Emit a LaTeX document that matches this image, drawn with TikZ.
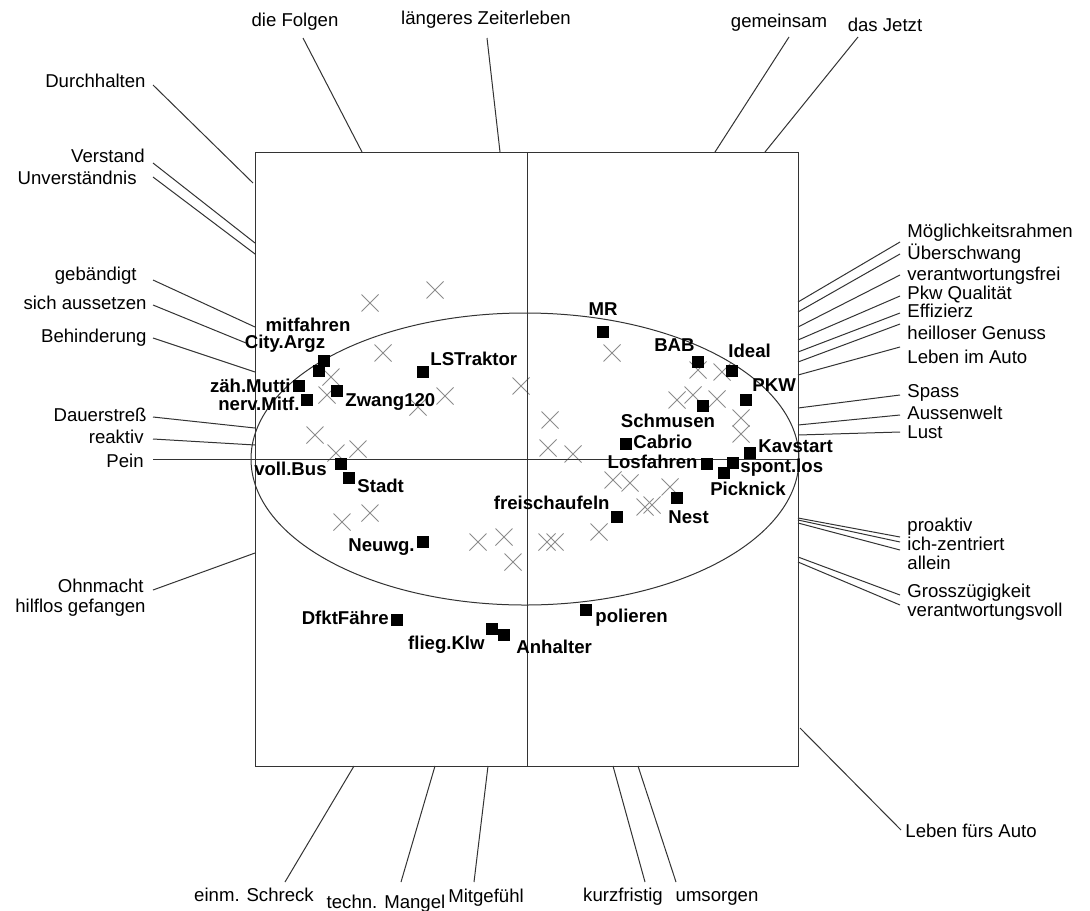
\documentclass[tikz,border=0pt]{standalone}
\usepackage{fontspec}
\setmainfont{Liberation Sans}
\newcommand\lbfont{\fontsize{9.3}{11}\selectfont}
\tikzset{
  lab/.style={font=\lbfont, inner sep=0pt, text height=6.6pt, text depth=1.8pt},
  obj/.style={lab, font=\lbfont\bfseries},
  leader/.style={draw=black!80, line width=0.5pt},
  frame/.style={draw=black!80, line width=0.5pt},
  sq/.style={fill=black, minimum size=6.2pt, inner sep=0pt},
  xmark/.style={draw=black!45, line width=0.5pt},
}
\begin{document}
\begin{tikzpicture}[x=0.5pt, y=-0.5pt]
  \fill[white] (0,0) rectangle (1090,910);
  \useasboundingbox (0,0) rectangle (1090,910);
  % grey crosses
  \foreach \x/\y in {370/303, 435/290, 383/353, 331/377, 327/395, 445/396, 418/407, 521/386,
      315/435, 336/453, 358/449, 342/522, 370/513, 478/542, 504/537, 513/562, 547/542, 555/542,
      599/532, 550/420, 548/448, 573/454, 612/353, 677/400, 693/395, 717/399, 698/370, 722/372,
      741/418, 741/434, 613/480, 630/483, 670/487, 645/507, 652/505}
    \draw[xmark] (\x,\y) +(-8.5,-8.5) -- +(8.5,8.5) +(-8.5,8.5) -- +(8.5,-8.5);
  % frame, axes and ellipse
  \draw[frame] (255,152) rectangle (798,766);
  \draw[frame] (527,152) -- (527,766);
  \draw[frame] (255,459) -- (798,459);
  \draw[frame] (525,459) ellipse [x radius=274, y radius=146];
  % top labels
  \node[lab] (tFolg) at (295,22) {die Folgen};
  \node[lab] (tZeit) at (486,20) {längeres Zeiterleben};
  \node[lab] (tGem) at (779,23) {gemeinsam};
  \node[lab] (tJetzt) at (885,27) {das Jetzt};
  \coordinate (fFolg) at (362,152);
  \coordinate (fZeit) at (500,152);
  \coordinate (fGem) at (715,152);
  \coordinate (fJetzt) at (765,152);
  \draw[leader] ([xshift=4pt,yshift=-8pt]tFolg.center) -- (fFolg);
  \draw[leader] ([xshift=.5pt,yshift=-9pt]tZeit.center) -- (fZeit);
  \draw[leader] ([xshift=5pt,yshift=-7pt]tGem.center) -- (fGem);
  \draw[leader] ([xshift=-13.5pt,yshift=-5pt]tJetzt.center) -- (fJetzt);
  % left labels
  \node[lab, anchor=east] (tDurch) at (146,83) {Durchhalten};
  \node[lab, anchor=east] (tVerst) at (145,158) {Verstand};
  \node[lab, anchor=east] (tUnv) at (137,180) {Unverständnis};
  \node[lab, anchor=east] (tGeb) at (137,276) {gebändigt};
  \node[lab, anchor=east] (tAuss) at (147,305) {sich aussetzen};
  \node[lab, anchor=east] (tBeh) at (147,338) {Behinderung};
  \node[lab, anchor=east] (tDauer) at (147,417) {Dauerstreß};
  \node[lab, anchor=east] (tReak) at (144,439) {reaktiv};
  \node[lab, anchor=east] (tPein) at (144,463) {Pein};
  \node[lab, anchor=east] (tOhn) at (144,588) {Ohnmacht};
  \node[lab, anchor=east] (tHilf) at (146,608) {hilflos gefangen};
  \coordinate (fDurch) at (253,183);
  \coordinate (fVerst) at (255,243);
  \coordinate (fUnv) at (255,254);
  \coordinate (fGeb) at (255,327);
  \coordinate (fAuss) at (246,343);
  \coordinate (fBeh) at (255,372);
  \coordinate (fDauer) at (255,428);
  \coordinate (fReak) at (255,445);
  \coordinate (fPein) at (255,459);
  \coordinate (fOhn) at (255,553);
  \draw[leader] ([xshift=3.5pt,yshift=-1pt]tDurch.east) -- (fDurch);
  \draw[leader] ([xshift=4pt,yshift=-2.5pt]tVerst.east) -- (fVerst);
  \draw[leader] ([xshift=8pt,yshift=1.5pt]tUnv.east) -- (fUnv);
  \draw[leader] ([xshift=8pt,yshift=-2pt]tGeb.east) -- (fGeb);
  \draw[leader] ([xshift=3pt]tAuss.east) -- (fAuss);
  \draw[leader] ([xshift=3pt]tBeh.east) -- (fBeh);
  \draw[leader] ([xshift=3pt]tDauer.east) -- (fDauer);
  \draw[leader] ([xshift=4.5pt]tReak.east) -- (fReak);
  \draw[leader] ([xshift=4.5pt,yshift=2pt]tPein.east) -- (fPein);
  \draw[leader] ([xshift=4.5pt,yshift=-1pt]tOhn.east) -- (fOhn);
  % right labels
  \node[lab, anchor=west] (tMoeg) at (907,233) {Möglichkeitsrahmen};
  \node[lab, anchor=west] (tUeber) at (907,255) {Überschwang};
  \node[lab, anchor=west] (tVfrei) at (907,276) {verantwortungsfrei};
  \node[lab, anchor=west] (tPkwQ) at (907,295) {Pkw Qualität};
  \node[lab, anchor=west] (tEffiz) at (907,313) {Effizierz};
  \node[lab, anchor=west] (tGenuss) at (907,335) {heilloser Genuss};
  \node[lab, anchor=west] (tLebIm) at (907,359) {Leben im Auto};
  \node[lab, anchor=west] (tSpass) at (907,393) {Spass};
  \node[lab, anchor=west] (tAussen) at (907,415) {Aussenwelt};
  \node[lab, anchor=west] (tLust) at (907,434) {Lust};
  \node[lab, anchor=west] (tProak) at (907,527) {proaktiv};
  \node[lab, anchor=west] (tIch) at (907,546) {ich-zentriert};
  \node[lab, anchor=west] (tAllein) at (907,565) {allein};
  \node[lab, anchor=west] (tGross) at (907,593) {Grosszügigkeit};
  \node[lab, anchor=west] (tVvoll) at (907,612) {verantwortungsvoll};
  \node[lab, anchor=west] (tLebFuer) at (905,833) {Leben fürs Auto};
  \coordinate (fMoeg) at (798,302);
  \coordinate (fUeber) at (798,312);
  \coordinate (fVfrei) at (798,327);
  \coordinate (fPkwQ) at (798,340);
  \coordinate (fEffiz) at (798,352);
  \coordinate (fGenuss) at (798,362);
  \coordinate (fLebIm) at (798,375);
  \coordinate (fSpass) at (798,408);
  \coordinate (fAussen) at (798,425);
  \coordinate (fLust) at (798,435);
  \coordinate (fProak) at (798,518);
  \coordinate (fIch) at (798,520);
  \coordinate (fAllein) at (798,523);
  \coordinate (fGross) at (798,557);
  \coordinate (fVvoll) at (798,562);
  \coordinate (fLebFuer) at (800,728);
  \draw[leader] ([xshift=-3.5pt,yshift=-4.5pt]tMoeg.west) -- (fMoeg);
  \draw[leader] ([xshift=-3.5pt,yshift=.5pt]tUeber.west) -- (fUeber);
  \draw[leader] ([xshift=-3.5pt,yshift=.5pt]tVfrei.west) -- (fVfrei);
  \draw[leader] ([xshift=-3.5pt,yshift=-.5pt]tPkwQ.west) -- (fPkwQ);
  \draw[leader] ([xshift=-3.5pt]tEffiz.west) -- (fEffiz);
  \draw[leader] ([xshift=-3.5pt,yshift=5.5pt]tGenuss.west) -- (fGenuss);
  \draw[leader] ([xshift=-3.5pt,yshift=6pt]tLebIm.west) -- (fLebIm);
  \draw[leader] ([xshift=-3.5pt,yshift=-1pt]tSpass.west) -- (fSpass);
  \draw[leader] ([xshift=-3.5pt]tAussen.west) -- (fAussen);
  \draw[leader] ([xshift=-3.5pt,yshift=1pt]tLust.west) -- (fLust);
  \draw[leader] ([xshift=-3.5pt,yshift=-5pt]tProak.west) -- (fProak);
  \draw[leader] ([xshift=-3.5pt,yshift=2pt]tIch.west) -- (fIch);
  \draw[leader] ([xshift=-3.5pt,yshift=7.5pt]tAllein.west) -- (fAllein);
  \draw[leader] ([xshift=-3.5pt,yshift=-1pt]tGross.west) -- (fGross);
  \draw[leader] ([xshift=-3.5pt,yshift=3.5pt]tVvoll.west) -- (fVvoll);
  \draw[leader] ([xshift=-2pt,yshift=1.5pt]tLebFuer.west) -- (fLebFuer);
  % bottom labels
  \node[lab] (tSchreck) at (254,897) {einm. Schreck};
  \node[lab] (tMangel) at (386,904) {techn. Mangel};
  \node[lab] (tMitg) at (486,898) {Mitgefühl};
  \node[lab] (tKurz) at (623,897) {kurzfristig};
  \node[lab] (tSorg) at (717,897) {umsorgen};
  \coordinate (fSchreck) at (354,766);
  \coordinate (fMangel) at (435,766);
  \coordinate (fMitg) at (488,766);
  \coordinate (fKurz) at (613,766);
  \coordinate (fSorg) at (638,766);
  \draw[leader] ([xshift=15.5pt,yshift=7.5pt]tSchreck.center) -- (fSchreck);
  \draw[leader] ([xshift=7.5pt,yshift=11pt]tMangel.center) -- (fMangel);
  \draw[leader] ([xshift=-6pt,yshift=8pt]tMitg.center) -- (fMitg);
  \draw[leader] ([xshift=11pt,yshift=7.5pt]tKurz.center) -- (fKurz);
  \draw[leader] ([xshift=-20.5pt,yshift=7.5pt]tSorg.center) -- (fSorg);
  % squares with their labels
  \node[sq] (sMitf) at (324,361) {};
  \node[sq] (sCity) at (319,371) {};
  \node[obj] (tMitf) at (308,327) {mitfahren};
  \node[obj] (tCity) at (285,344) {City.Argz};
  \node[sq] (sZaeh) at (299,386) {};
  \node[obj, anchor=east] (tZaeh) at (291,388) {zäh.Mutti};
  \node[sq] (sNerv) at (307,400) {};
  \node[obj, anchor=east] (tNerv) at (300,406) {nerv.Mitf.};
  \node[sq] (sZwang) at (337,391) {};
  \node[obj, anchor=west] (tZwang) at (345,402) {Zwang120};
  \node[sq] (sLST) at (423,372) {};
  \node[obj, anchor=west] (tLST) at (430,361) {LSTraktor};
  \node[sq] (sVoll) at (341,464) {};
  \node[obj, anchor=east] (tVoll) at (327,471) {voll.Bus};
  \node[sq] (sStadt) at (349,478) {};
  \node[obj, anchor=west] (tStadt) at (357,488) {Stadt};
  \node[sq] (sNeuwg) at (423,542) {};
  \node[obj, anchor=east] (tNeuwg) at (415,547) {Neuwg.};
  \node[sq] (sDfkt) at (397,620) {};
  \node[obj, anchor=east] (tDfkt) at (389,620) {DfktFähre};
  \node[sq] (sFlieg) at (492,629) {};
  \node[sq] (sAnh) at (504,635) {};
  \node[obj, anchor=east] (tFlieg) at (485,645) {flieg.Klw};
  \node[obj, anchor=west] (tAnh) at (516,649) {Anhalter};
  \node[sq] (sMR) at (603,332) {};
  \node[obj] (tMR) at (603,311) {MR};
  \node[sq] (sBAB) at (698,362) {};
  \node[obj, anchor=east] (tBAB) at (695,347) {BAB};
  \node[sq] (sIdeal) at (732,371) {};
  \node[obj, anchor=west] (tIdeal) at (728,353) {Ideal};
  \node[sq] (sPKW) at (746,400) {};
  \node[obj, anchor=west] (tPKW) at (752,387) {PKW};
  \node[sq] (sSchm) at (703,406) {};
  \node[obj] (tSchm) at (668,423) {Schmusen};
  \node[sq] (sCabrio) at (626,444) {};
  \node[obj, anchor=west] (tCabrio) at (633,444) {Cabrio};
  \node[sq] (sKav) at (750,453) {};
  \node[obj, anchor=west] (tKav) at (758,448) {Kavstart};
  \node[sq] (sLosf) at (707,464) {};
  \node[obj, anchor=east] (tLosf) at (698,464) {Losfahren};
  \node[sq] (sSpont) at (733,463) {};
  \node[sq] (sPick) at (724,473) {};
  \node[obj, anchor=west] (tSpont) at (740,468) {spont.los};
  \node[obj] (tPick) at (748,491) {Picknick};
  \node[sq] (sNest) at (677,498) {};
  \node[obj, anchor=west] (tNest) at (668,519) {Nest};
  \node[sq] (sFrei) at (617,517) {};
  \node[obj, anchor=east] (tFrei) at (610,505) {freischaufeln};
  \node[sq] (sPol) at (586,610) {};
  \node[obj, anchor=west] (tPol) at (595,618) {polieren};
\end{tikzpicture}
\end{document}
